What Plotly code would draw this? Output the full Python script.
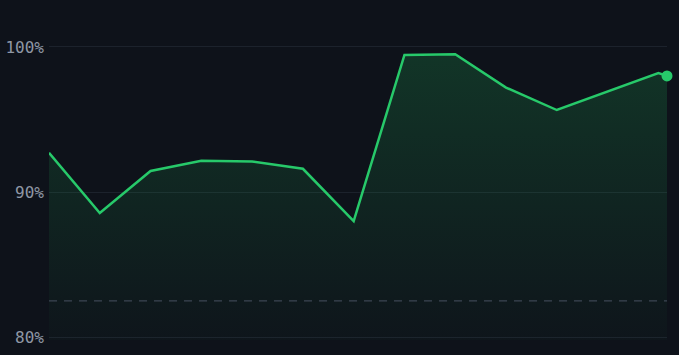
import plotly.graph_objects as go

# data
x_pos = [0, 1, 2, 3, 4, 5, 6, 7, 8, 9, 10, 12, 12.17]
values = [92.7, 88.55, 91.45, 92.15, 92.1, 91.6, 88.0, 99.45, 99.5, 97.2, 95.65, 98.2, 98.0]
target = 82.5
y_ticks = [80, 90, 100]
y_tick_labels = ["80%", "90%", "100%"]

GREEN = "#27c96a"
BG = "#0e121a"

fig = go.Figure()

fig.add_trace(go.Scatter(
    x=x_pos, y=values, mode="lines",
    line=dict(color=GREEN, width=2.5),
    fill="tozeroy",
    fillgradient=dict(
        type="vertical",
        start=80, stop=100,
        colorscale=[[0, "rgba(34,197,94,0.02)"], [1, "rgba(34,197,94,0.2)"]],
    ),
    hoverinfo="skip", showlegend=False,
))

fig.add_trace(go.Scatter(
    x=[x_pos[0], x_pos[-1]], y=[target, target], mode="lines",
    line=dict(color="#3c4553", width=1.3, dash="8px,7px"),
    hoverinfo="skip", showlegend=False,
))

fig.add_trace(go.Scatter(
    x=[x_pos[-1]], y=[values[-1]], mode="markers",
    marker=dict(color=GREEN, size=11),
    cliponaxis=False, hoverinfo="skip", showlegend=False,
))

fig.update_layout(
    width=679, height=355,
    margin=dict(l=49, r=12, t=44, b=15, autoexpand=False),
    paper_bgcolor=BG, plot_bgcolor=BG,
    font=dict(family="DejaVu Sans Mono, monospace", size=16, color="#8e97a5"),
    xaxis=dict(range=[x_pos[0], x_pos[-1]], visible=False, showgrid=False, zeroline=False),
    yaxis=dict(
        range=[79.8, 100.2], tickvals=y_ticks, ticktext=y_tick_labels,
        showgrid=True, gridcolor="#1c222c", gridwidth=1, zeroline=False,
        showline=False, ticks="", ticklen=0, automargin=False,
        ticklabelstandoff=4,
    ),
)

fig.write_html("out.html")
